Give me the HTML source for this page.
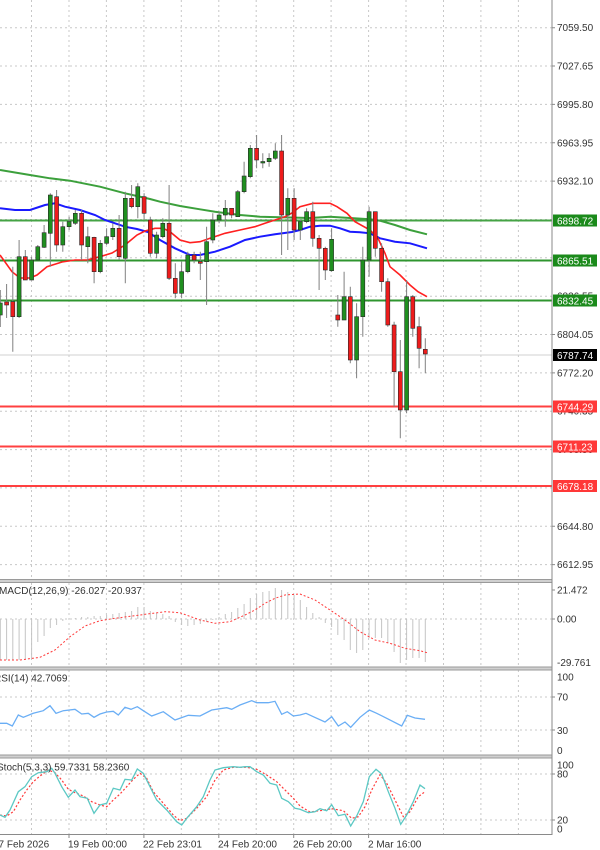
<!DOCTYPE html>
<html><head><meta charset="utf-8"><style>
html,body{margin:0;padding:0;background:#fff;}
svg{display:block;font-family:"Liberation Sans",sans-serif;}
</style></head><body>
<svg width="600" height="850" viewBox="0 0 600 850" xmlns="http://www.w3.org/2000/svg">
<rect width="600" height="850" fill="#fff"/>
<!-- vertical grid -->
<g stroke="#c8c8c8" stroke-width="1" stroke-dasharray="2,3">
<path d="M31.5 0V579M69 0V579M106.4 0V579M143.9 0V579M181.3 0V579M218.8 0V579M256.2 0V579M293.7 0V579M331.1 0V579M368.6 0V579M406 0V579M443.5 0V579M480.9 0V579M518.4 0V579"/>
<path d="M31.5 583V667M69 583V667M106.4 583V667M143.9 583V667M181.3 583V667M218.8 583V667M256.2 583V667M293.7 583V667M331.1 583V667M368.6 583V667M406 583V667M443.5 583V667M480.9 583V667M518.4 583V667"/>
<path d="M31.5 670V755M69 670V755M106.4 670V755M143.9 670V755M181.3 670V755M218.8 670V755M256.2 670V755M293.7 670V755M331.1 670V755M368.6 670V755M406 670V755M443.5 670V755M480.9 670V755M518.4 670V755"/>
<path d="M31.5 758V834M69 758V834M106.4 758V834M143.9 758V834M181.3 758V834M218.8 758V834M256.2 758V834M293.7 758V834M331.1 758V834M368.6 758V834M406 758V834M443.5 758V834M480.9 758V834M518.4 758V834"/>
<!-- horizontal grid main -->
<path d="M0 27.7H552M0 66H552M0 104.4H552M0 142.8H552M0 181.1H552M0 219.5H552M0 257.8H552M0 296.2H552M0 334.5H552M0 372.9H552M0 411.2H552M0 449.6H552M0 487.9H552M0 526.3H552M0 564.6H552"/>
<path d="M0 619H552M0 697H552M0 730H552M0 774H552M0 820H552"/>
</g>
<!-- current price line -->
<line x1="0" y1="355" x2="552" y2="355" stroke="#d0d0d0" stroke-width="1"/>
<!-- level lines -->
<g stroke-width="2">
<line x1="0" y1="220.5" x2="552" y2="220.5" stroke="#45a345"/>
<line x1="0" y1="260.5" x2="552" y2="260.5" stroke="#2f952f"/>
<line x1="0" y1="300.5" x2="552" y2="300.5" stroke="#2f952f"/>
<line x1="0" y1="406.5" x2="552" y2="406.5" stroke="#ff4040"/>
<line x1="0" y1="446.5" x2="552" y2="446.5" stroke="#ff4040"/>
<line x1="0" y1="486" x2="552" y2="486" stroke="#ff4040"/>
</g>
<!-- MAs -->
<polyline fill="none" stroke="#3ca03c" stroke-width="2" points="0,170 30,175 50,178.3 70,180.7 100,186.7 125,193.3 150,199 160,201.7 180,206 200,209.3 215,211.7 240,215 260,216.7 290,217.5 310,218 330,216.7 350,218 370,219.3 380,220.7 395,225 410,230 427,234.3"/>
<polyline fill="none" stroke="#1a1aff" stroke-width="2" points="0,208.3 15,210 30,210 45,205 55,203.3 65,206.7 80,210 95,215 105,220 115,223.3 125,226.7 137,229 148,232 160,240 175,248.3 190,255 200,255 215,251.7 230,246.7 245,240 260,236.7 275,234.3 292,232 300,230 310,226.7 320,225.7 330,225.7 340,228.3 350,231.7 360,232.3 370,233.3 380,238.3 395,241.7 410,243.3 427,248.3"/>
<polyline fill="none" stroke="#ff2020" stroke-width="1.6" points="0,255 12,271.7 20,278 30,278 37,275 47,266.7 62,262 75,260 87,260 100,256.7 112,253 125,245 137,235 145,231 155,228.3 163,228.3 170,231.7 180,240 190,242.7 200,241.7 210,238.3 225,233.3 240,230 255,226.7 265,223.3 275,220 285,216.7 292,213 300,206.7 313,203.3 330,203.3 337,206.7 347,213.3 355,221.7 370,230 378,238.3 385,253.3 390,266.7 400,275 410,285 418,291.7 427,296.7"/>
<!-- wicks -->
<g stroke="#808080" stroke-width="1">
<path d="M0.3 290V327M6.6 284V318M12.8 266.7V351.7M19.1 240V318M25.3 250V280M31.6 256.7V280M37.8 245V260M44.1 225V248M50.3 193.3V266.7M56.6 190V251.7M62.8 221.7V251.7M69.1 216.7V230M75.3 210V225M81.6 210V260M87.8 226.7V263.3M94.1 236.7V283.3M100.3 240V273.3M106.6 228.3V245M112.8 223.3V240M119.1 215V260M125.3 191.7V283.3M131.6 185V208.3M137.8 183.3V218.3M144.1 193.3V220M150.3 216.7V256.7M156.6 231.7V258.3M162.8 218.3V238.3M169.1 185V280M175.3 263.3V298.3M181.6 261.7V298.3M187.8 251.7V273.3M194.1 251.7V263.3M200.3 251.7V280M206.6 226.7V305M212.8 213.3V243.3M219.1 211.7V223.3M225.3 200V226.7M231.6 208.3V218.3M237.8 190V216.7M244.1 161.7V193.3M250.3 145V178.3M256.6 135V168.3M262.8 153.3V168.3M269.1 153.3V166.7M275.3 143.3V160M281.6 135V255M287.8 188.3V250M294.1 188.3V240M300.3 220V240M306.6 208.3V223.3M312.8 201.7V246.7M319.1 235V290M325.3 246.7V280M331.6 228.3V271.7M337.8 295V326.7M344.1 271.7V320M350.3 286.7V363.3M356.6 303.3V378.3M362.8 246.7V336.7M369.1 206.7V276.7M375.3 211.7V256.7M381.6 243.3V291.7M387.8 278.3V326.7M394.1 321.7V406.7M400.3 340V438.3M406.6 280V413.3M412.8 295V336.7M419.1 316.7V368.3M425.3 338.3V373.3"/>
</g>
<!-- bodies -->
<g stroke="#2a2a2a" stroke-width="0.6">
<g fill="#1f8f1f">
<rect x="-1.7" y="303" width="4" height="12"/>
<rect x="17.1" y="256.7" width="4" height="60"/>
<rect x="29.6" y="260" width="4" height="20"/>
<rect x="35.8" y="246.7" width="4" height="13.3"/>
<rect x="42.1" y="232.7" width="4" height="14.6"/>
<rect x="48.3" y="195" width="4" height="38.3"/>
<rect x="60.8" y="226.7" width="4" height="18.3"/>
<rect x="67.1" y="221.7" width="4" height="5"/>
<rect x="73.3" y="213.3" width="4" height="10"/>
<rect x="85.8" y="236.7" width="4" height="10"/>
<rect x="98.3" y="243.3" width="4" height="28.4"/>
<rect x="104.6" y="236.7" width="4" height="6.6"/>
<rect x="110.8" y="228.3" width="4" height="8.4"/>
<rect x="123.3" y="198.3" width="4" height="60"/>
<rect x="135.8" y="186.7" width="4" height="20"/>
<rect x="154.6" y="235" width="4" height="18.3"/>
<rect x="160.8" y="223.3" width="4" height="13.4"/>
<rect x="179.6" y="271.7" width="4" height="21.6"/>
<rect x="185.8" y="255" width="4" height="16.7"/>
<rect x="204.6" y="241.7" width="4" height="20"/>
<rect x="210.8" y="220" width="4" height="20"/>
<rect x="217.1" y="215" width="4" height="5"/>
<rect x="223.3" y="208.3" width="4" height="6.7"/>
<rect x="235.8" y="191.7" width="4" height="25"/>
<rect x="242.1" y="176" width="4" height="15.7"/>
<rect x="248.3" y="148.3" width="4" height="28.4"/>
<rect x="260.8" y="161.5" width="4" height="1.5"/>
<rect x="267.1" y="158.3" width="4" height="3.4"/>
<rect x="273.3" y="151" width="4" height="7.3"/>
<rect x="285.8" y="198.3" width="4" height="16.7"/>
<rect x="298.3" y="221.7" width="4" height="8.3"/>
<rect x="304.6" y="211.7" width="4" height="10"/>
<rect x="329.6" y="239.3" width="4" height="31.4"/>
<rect x="342.1" y="296.7" width="4" height="23.3"/>
<rect x="354.6" y="316.7" width="4" height="43.3"/>
<rect x="360.8" y="260" width="4" height="56.7"/>
<rect x="367.1" y="211.7" width="4" height="48.3"/>
<rect x="404.6" y="296.7" width="4" height="113.3"/>
</g>
<g fill="#ee1c1c">
<rect x="4.6" y="302" width="4" height="3"/>
<rect x="10.8" y="301.7" width="4" height="15"/>
<rect x="23.3" y="256.7" width="4" height="23.3"/>
<rect x="54.6" y="196.7" width="4" height="48.3"/>
<rect x="79.6" y="213.3" width="4" height="31.7"/>
<rect x="92.1" y="237.3" width="4" height="34.4"/>
<rect x="117.1" y="228.3" width="4" height="28.4"/>
<rect x="129.6" y="198.3" width="4" height="8.4"/>
<rect x="142.1" y="196.7" width="4" height="16.6"/>
<rect x="148.3" y="220" width="4" height="33.3"/>
<rect x="167.1" y="223.3" width="4" height="55"/>
<rect x="173.3" y="278.3" width="4" height="15"/>
<rect x="192.1" y="255" width="4" height="5"/>
<rect x="198.3" y="261.7" width="4" height="1.6"/>
<rect x="229.6" y="208.3" width="4" height="6.7"/>
<rect x="254.6" y="148.3" width="4" height="11.7"/>
<rect x="279.6" y="151" width="4" height="64"/>
<rect x="292.1" y="198.3" width="4" height="31.7"/>
<rect x="310.8" y="211.7" width="4" height="26.6"/>
<rect x="317.1" y="238.3" width="4" height="10"/>
<rect x="323.3" y="248.3" width="4" height="21.7"/>
<rect x="335.8" y="315" width="4" height="5"/>
<rect x="348.3" y="296.7" width="4" height="63.3"/>
<rect x="373.3" y="211.7" width="4" height="36.6"/>
<rect x="379.6" y="248.3" width="4" height="33.4"/>
<rect x="385.8" y="281.7" width="4" height="43.3"/>
<rect x="392.1" y="325" width="4" height="46.7"/>
<rect x="398.3" y="371.7" width="4" height="38.3"/>
<rect x="410.8" y="296.7" width="4" height="31.6"/>
<rect x="417.1" y="326.7" width="4" height="21.6"/>
<rect x="423.3" y="349.3" width="4" height="4.7"/>
</g>
</g>

<!-- MACD histogram -->
<g stroke="#c4c4c4" stroke-width="1">
<path d="M0.3 619V660M6.6 619V660M12.8 619V660M19.1 619V660M25.3 619V659M31.6 619V658M37.8 619V642M44.1 619V636M50.3 619V628M56.6 619V625M62.8 619V621M69.1 619V618M75.3 619V618M81.6 619V617M87.8 619V617M94.1 619V616M100.3 619V616M106.6 619V615M112.8 619V614M119.1 619V613M125.3 619V612M131.6 619V611M137.8 619V607M144.1 619V607M150.3 619V611M156.6 619V613M162.8 619V614M169.1 619V616M175.3 619V622M181.6 619V625M187.8 619V626M194.1 619V625M200.3 619V624M206.6 619V622M212.8 619V620M219.1 619V617M225.3 619V614M231.6 619V612M237.8 619V608M244.1 619V604M250.3 619V598M256.6 619V594M262.8 619V592M269.1 619V591M275.3 619V588M281.6 619V590M287.8 619V592M294.1 619V595M300.3 619V600M306.6 619V607M312.8 619V613M319.1 619V617M325.3 619V623M331.6 619V627M337.8 619V635M344.1 619V640M350.3 619V650M356.6 619V653M362.8 619V650M369.1 619V638M375.3 619V638M381.6 619V638M387.8 619V643M394.1 619V652M400.3 619V663M406.6 619V660M412.8 619V658M419.1 619V658M425.3 619V662"/>
</g>
<polyline fill="none" stroke="#ff3a3a" stroke-width="1" stroke-dasharray="2,2" points="0,660 20,660 40,657.3 55,650 70,636.7 85,626 100,620.7 115,618.3 140,615 165,611.7 180,612.7 200,620 215,623.3 230,621.7 245,615 255,610 265,603.3 275,598.3 285,595 300,594 315,600 330,610 345,620 360,631.7 375,640 390,643.3 405,648.3 420,650.7 427,652.7"/>

<!-- RSI -->
<polyline fill="none" stroke="#6aaef5" stroke-width="1.3" points="0,723.3 6.7,723.3 12.3,726 18.3,715 23.3,717.3 33.3,713.3 43.3,710.7 50,705.7 56,713.3 63.3,710.7 75,709.3 81.7,714 88.3,713.3 94,717.3 100,714 106.7,712 113.3,711.3 118.3,715 125,707.3 131,709.3 137.3,706.7 143.3,710.7 151.7,716 163.3,711.7 175,720 188.3,715.3 200,716 211.7,710 226.7,707.7 231.7,709.3 240,705 251.7,700.7 256.7,702.7 268.3,702.7 275,701.3 281.7,714.3 287.3,711.7 293.3,716 300,715 306,713.3 313.3,716.7 325,722 331.7,716.7 338.3,726 345,722 350.7,727.3 360,717.3 369.3,710 376.7,713.3 386.7,718.3 401.7,726 407.3,715.3 415,718 425,719.3"/>

<!-- Stoch -->
<polyline fill="none" stroke="#ff3a3a" stroke-width="1.2" stroke-dasharray="2,2" points="0,815 6.7,816 13.3,811.7 20,800 26.7,790 33.3,781.7 40,776 48.3,770 55,772.7 61.7,780 68.3,789.3 75,792.7 83.3,796 91.7,801.7 100,805 106.7,806.7 113.3,800 120,794 126.7,786.7 133.3,779.3 140,773.3 146.7,778.3 153.3,791.7 163.3,803.3 173.3,815 180,820.7 186.7,818.3 196.7,808.3 206.7,796.7 215,780 223.3,770 233.3,767.3 246.7,767.3 256.7,769.3 266.7,775 276.7,781.7 286.7,791.7 295,800 300,806 310,812 320,810.7 331.7,808.7 343.3,810.7 351.7,818.3 358.3,816.7 365,806.7 371.7,790 380,774.7 386.7,783.3 395,800 403.3,816.7 410,811.7 418.3,796.7 425,791.7"/>
<polyline fill="none" stroke="#5cc8c4" stroke-width="1.3" points="0,815 5,817.3 10,810 18.3,791.7 25,786.7 31.7,776.7 38.3,772.7 46.7,771.7 51.7,768.3 55,773.3 61.7,786.7 68.3,797.3 75,790 80,796.7 87.3,798.3 94,813.3 100,805 106.7,803.3 113.3,788.3 120,790 125,779.3 131.7,780 137.3,769 143.3,773.3 150,786.7 156.7,800 166.7,810 176.7,821.7 181.7,825 186.7,818.3 196.7,806.7 203.3,796.7 210,780 215,770 223.3,767.7 233.3,766.7 240,767.3 245,766.7 250,766.7 256.7,771.7 263.3,775 270,783.3 276.7,785 281.7,798.3 288.3,801.7 295,808.3 300,809.3 308.3,812.7 315,811.7 320,808.7 326.7,810.7 331.7,804.7 338.3,815.7 345,814.3 350.7,826 356.7,816 363.3,801.7 369.3,776.7 376,769.3 381.7,774 388.3,791.7 395,808.3 400.7,824.3 406.7,815 413.3,801.7 420,785 425,788.7"/>

<!-- panel separators -->
<g fill="#9a9a9a">
<rect x="0" y="579" width="552" height="1"/><rect x="0" y="582" width="552" height="1"/>
<rect x="0" y="666.5" width="552" height="1"/><rect x="0" y="669.5" width="552" height="1"/>
<rect x="0" y="754.5" width="552" height="1"/><rect x="0" y="757.5" width="552" height="1"/>
</g>
<g fill="#d0d0d0">
<rect x="0" y="580" width="552" height="2"/>
<rect x="0" y="667.5" width="552" height="2"/>
<rect x="0" y="755.5" width="552" height="2"/>
</g>
<!-- axes -->
<line x1="552" y1="0" x2="552" y2="835" stroke="#8a8a8a" stroke-width="1"/>
<line x1="0" y1="834.5" x2="552" y2="834.5" stroke="#8a8a8a" stroke-width="1"/>
<g stroke="#8a8a8a" stroke-width="1">
<path d="M69 835V838M143.9 835V838M218.8 835V838M293.7 835V838M368.6 835V838"/>
<path d="M552 27.7H555M552 66H555M552 104.4H555M552 142.8H555M552 181.1H555M552 334.5H555M552 372.9H555M552 526.3H555M552 564.6H555M552 590H555M552 619H555M552 697H555M552 730H555M552 774H555M552 820H555"/>
</g>

<!-- right axis labels -->
<g font-size="10" fill="#333">
<text x="557" y="31.2">7059.50</text>
<text x="557" y="69.5">7027.65</text>
<text x="557" y="107.9">6995.80</text>
<text x="557" y="146.3">6963.95</text>
<text x="557" y="184.6">6932.10</text>
<text x="557" y="261.3">6868.40</text>
<text x="557" y="299.7">6836.55</text>
<text x="557" y="338">6804.05</text>
<text x="557" y="376.4">6772.20</text>
<text x="557" y="414.7">6740.35</text>
<text x="557" y="453.1">6708.50</text>
<text x="557" y="529.8">6644.80</text>
<text x="557" y="568.1">6612.95</text>
<text x="557" y="593.5">21.472</text>
<text x="557" y="622.5">0.00</text>
<text x="557" y="666">-29.761</text>
<text x="557" y="680.5">100</text>
<text x="557" y="700.5">70</text>
<text x="557" y="734">30</text>
<text x="557" y="754">0</text>
<text x="557" y="768.5">100</text>
<text x="557" y="777.5">80</text>
<text x="557" y="823.5">20</text>
<text x="557" y="832.5">0</text>
</g>
<!-- level label boxes -->
<rect x="553" y="214.5" width="44" height="12" fill="#1b8a1b"/>
<rect x="553" y="254.5" width="44" height="12" fill="#1b8a1b"/>
<rect x="553" y="294.5" width="44" height="12" fill="#1b8a1b"/>
<rect x="553" y="349" width="44" height="12" fill="#000"/>
<rect x="553" y="400.5" width="44" height="12" fill="#ff3838"/>
<rect x="553" y="440.5" width="44" height="12" fill="#ff3838"/>
<rect x="553" y="480" width="44" height="12" fill="#ff3838"/>
<g font-size="10" fill="#fff">
<text x="557" y="224.5">6898.72</text>
<text x="557" y="264.5">6865.51</text>
<text x="557" y="304.5">6832.45</text>
<text x="557" y="359">6787.74</text>
<text x="557" y="410.5">6744.29</text>
<text x="557" y="450.5">6711.23</text>
<text x="557" y="490">6678.18</text>
</g>

<!-- panel titles -->
<g font-size="10" fill="#333">
<text x="-1" y="594">MACD(12,26,9) -26.027 -20.937</text>
<text x="-6" y="681.5">RSI(14) 42.7069</text>
<text x="-3" y="770.5">Stoch(5,3,3) 59.7331 58.2360</text>
</g>
<!-- x-axis labels -->
<g font-size="10" fill="#333">
<text x="-7" y="847.5">17 Feb 2026</text>
<text x="68" y="847.5">19 Feb 00:00</text>
<text x="143" y="847.5">22 Feb 23:01</text>
<text x="218" y="847.5">24 Feb 20:00</text>
<text x="293" y="847.5">26 Feb 20:00</text>
<text x="368" y="847.5">2 Mar 16:00</text>
</g>
</svg>
</body></html>
